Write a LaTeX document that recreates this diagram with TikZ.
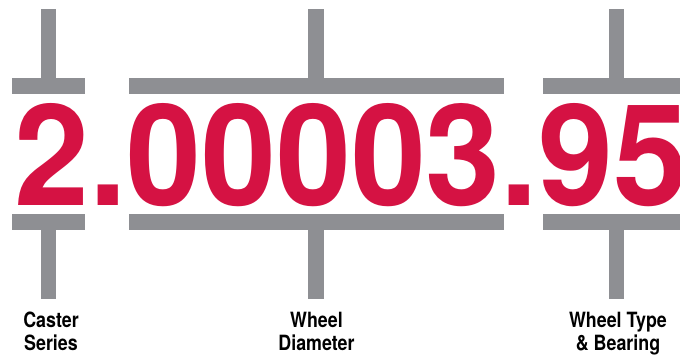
\documentclass[tikz,border=0pt]{standalone}
\usepackage{fontspec}
\setmainfont{TeX Gyre Heros}
\newfontfamily\numfont[FakeStretch=0.955]{TeX Gyre Heros}
\newfontfamily\capfont[FakeStretch=0.85]{TeX Gyre Heros}
\usetikzlibrary{positioning}
\definecolor{codered}{HTML}{D51243}
\definecolor{bargray}{HTML}{8E8F93}

\begin{document}
\begin{tikzpicture}[x=1pt, y=-1pt,
    bar/.style={fill=bargray, inner sep=0pt, minimum height=16pt},
    stem/.style={draw=bargray, line width=15.5pt},
    caption/.style={align=center, inner sep=0pt, font=\capfont\bfseries\fontsize{21}{23}\selectfont}]
    \useasboundingbox (0,0) rectangle (680,354);
    % Part number
    \node[anchor=base west, inner sep=0pt, text=codered, font=\numfont\bfseries\fontsize{141}{141}\selectfont] (code) at (14,205) {2.00003.95};

    % Bars above and below
    \node[bar, minimum width=73pt] (topA) at (48.5,86) {};
    \node[bar, minimum width=375pt] (topB) at (316.5,86) {};
    \node[bar, minimum width=147pt] (topC) at (616.5,86) {};
    \node[bar, minimum width=73pt] (botA) at (48.5,222) {};
    \node[bar, minimum width=375pt] (botB) at (316.5,222) {};
    \node[bar, minimum width=147pt] (botC) at (616.5,222) {};

    % Captions
    \node[caption, anchor=base] (series) at (51,350) {Caster\\Series};
    \node[caption, anchor=base] (diameter) at (316.5,350) {Wheel\\Diameter};
    \node[caption, anchor=base] (type) at (618,350) {Wheel Type\\\& Bearing};

    % Stem ends
    \coordinate (upA) at (48.5,9);
    \coordinate (upB) at (316,9);
    \coordinate (upC) at (616.5,9);
    \coordinate (downA) at (48.5,299);
    \coordinate (downB) at (316,299);
    \coordinate (downC) at (616.5,299);

    \draw[stem] (topA.north) -- (upA);
    \draw[stem] (topB.north -| upB) -- (upB);
    \draw[stem] (topC.north) -- (upC);
    \draw[stem] (botA.south) -- (downA);
    \draw[stem] (botB.south -| downB) -- (downB);
    \draw[stem] (botC.south) -- (downC);
\end{tikzpicture}
\end{document}
